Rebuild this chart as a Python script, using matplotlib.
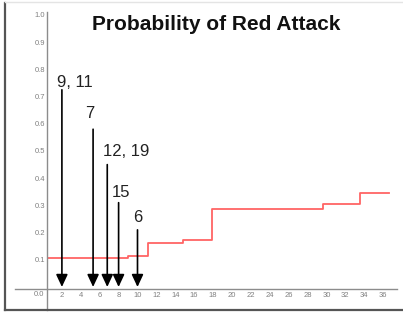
import matplotlib
matplotlib.use('Agg')
import matplotlib.pyplot as plt
from matplotlib.lines import Line2D

# data
step_x = [0.42, 9.0, 11.1, 14.8, 17.9, 29.6, 33.5, 36.6]
step_y = [0.106, 0.114, 0.162, 0.173, 0.287, 0.305, 0.345, 0.345]

arrow_x = [2, 5.3, 6.8, 8, 10]
arrow_top = [0.725, 0.58, 0.45, 0.31, 0.21]
arrow_labels = ['9, 11', '7', '12, 19', '15', '6']
# label centre offsets from arrow top, in pixels
label_off = [(13, 7), (-3, 16), (19, 13), (2, 10), (0, 12)]

x_ticks = list(range(2, 37, 2))
y_ticks = [0.1, 0.2, 0.3, 0.4, 0.5, 0.6, 0.7, 0.8, 0.9, 1.0]

W, H = 403, 313
fig = plt.figure(figsize=(W / 100, H / 100), dpi=100)
plt.rcParams['font.family'] = ['Liberation Sans', 'DejaVu Sans']


def fx(px):
    return px / W


def fy(py):
    return 1 - py / H


# plot area: x px 47..395, y px 12..289
ax = fig.add_axes([fx(47), fy(289), fx(395) - fx(47), fy(12) - fy(289)])
ax.set_xlim(0.423, 37.25)
ax.set_ylim(-0.0074, 1.011)
for s in ax.spines.values():
    s.set_visible(False)

ax.plot(step_x, step_y, drawstyle='steps-post', color='#ff6464', lw=1.3)

for x, t, lab, (dx, dy) in zip(arrow_x, arrow_top, arrow_labels, label_off):
    ax.annotate('', xy=(x, 0.0), xytext=(x, t),
                arrowprops=dict(arrowstyle='-|>,head_width=0.35,head_length=0.75',
                                color='black', lw=1.2, shrinkA=0, shrinkB=0))
    ax.annotate(lab, xy=(x, t), xytext=(dx * 0.72, dy * 0.72),
                textcoords='offset points', ha='center', va='center',
                fontsize=12, color='#222222')

ax.set_xticks(x_ticks)
ax.set_xticklabels([str(v) for v in x_ticks])
ax.set_yticks(y_ticks)
ax.set_yticklabels(['%.1f' % v for v in y_ticks])
ax.tick_params(length=0, labelsize=5.5, labelcolor='#808080')
ax.tick_params(axis='x', pad=2.5)
ax.tick_params(axis='y', pad=1.5)
fig.text(fx(44), fy(295), '0.0', ha='right', va='center', fontsize=5.5, color='#808080')

# axis lines
fig.add_artist(Line2D([fx(47), fx(47)], [fy(12), fy(310)], color='#8c8c8c', lw=1))
fig.add_artist(Line2D([fx(15), fx(397)], [fy(289), fy(289)], color='#8c8c8c', lw=1))

# outer frame
fig.add_artist(Line2D([fx(5), fx(5)], [fy(3), fy(310)], color='#555555', lw=1.6))
fig.add_artist(Line2D([fx(5), fx(403)], [fy(310), fy(310)], color='#555555', lw=1.6))
fig.add_artist(Line2D([fx(5), fx(403)], [fy(2), fy(2)], color='#e4e4e4', lw=1))

fig.text(fx(216), fy(24), 'Probability of Red Attack', ha='center', va='center',
         fontsize=15, fontweight='bold', color='#111111')

fig.savefig('out.png', dpi=100)
